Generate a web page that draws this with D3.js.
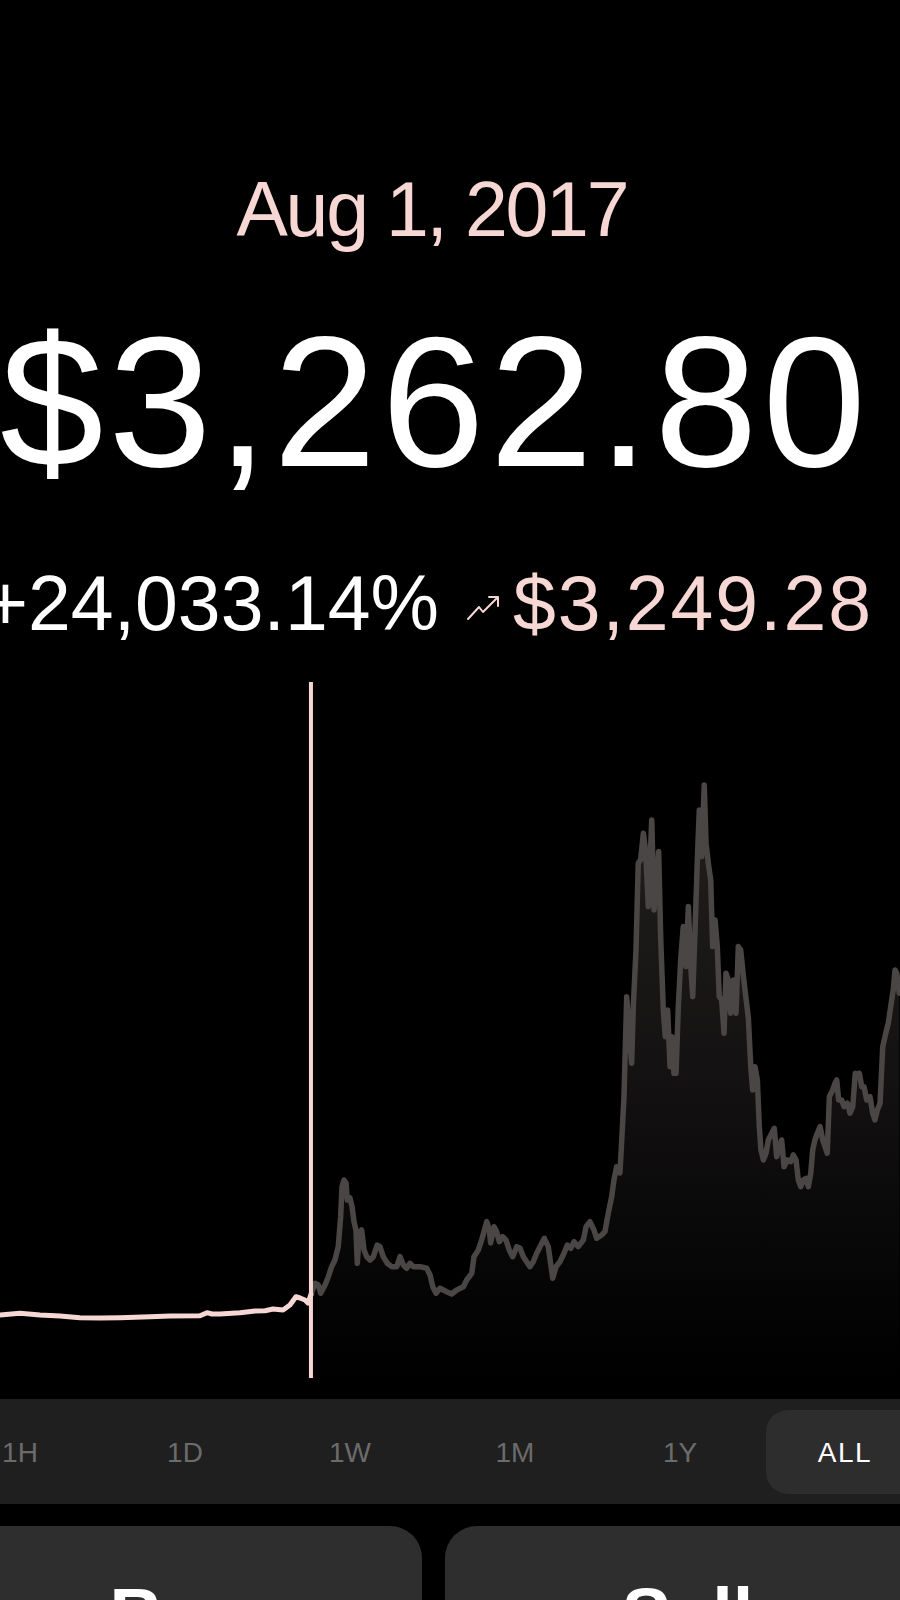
<!DOCTYPE html>
<html>
<head>
<meta charset="utf-8">
<script src="https://cdn.jsdelivr.net/npm/d3@7"></script>
<style>
  html, body { margin: 0; padding: 0; background: #000; }
  svg { display: block; }
  text { font-family: "Liberation Sans", Arial, Helvetica, sans-serif; }
</style>
</head>
<body>
<svg id="chart" width="900" height="1600"></svg>
<script>
// ---------- data ----------
const dateLabel = "Aug 1, 2017";
const priceLabel = "$3,262.80";
const changePctLabel = "+24,033.14%";
const changeAbsLabel = "$3,249.28";
const ranges = ["1H", "1D", "1W", "1M", "1Y", "ALL"];
const activeRange = "ALL";
const actions = ["Buy", "Sell"];

const cursorWeek = 207.3;
const cursorPrice = 3262.80;

const weeks = [
  0, 13.3, 26.7, 40, 53.3, 66.7, 80, 100, 113.3, 133.3, 138, 141.3, 146.7, 160, 170, 176.7, 182, 188.7, 193.3, 197.3, 200, 203.3, 205.3, 207.3,
  210, 212.2, 213.8, 216.7, 218.9, 221.1, 223.3, 225.5, 227.1, 228, 229.3, 230.7, 231.5, 233.3, 234.7, 236, 237.3, 238.2, 239.5, 241.1, 242.7, 244.5,
  246.7, 248.9, 251.5, 253.3, 255.5, 258.2, 261.1, 264.5, 266.7, 268.9, 271.1, 273.3, 275.5, 280, 284.5, 286.7, 288.5, 290.7, 293.3, 297.8, 301.1,
  304.5, 308.9, 311.1, 314.5, 316, 318.9, 321.1, 324.5, 326.2, 327.1, 329.3, 331.1, 332.9,
  335.1, 337.3, 339.5, 341.8, 344.5, 346.7, 348.9, 351.1, 353.3, 355.5, 357.8, 360, 362.9, 365.5, 367.1, 368.5, 370.7, 373.3, 376, 378.2, 380.5,
  382.7, 385.5, 388.9, 390.7, 393.3, 396, 397.8, 401.1, 403.3, 405.5, 407.8, 409.3, 411.1, 413.3, 414.5, 416, 417.8, 419.5, 421.1, 422.2, 424,
  425.5, 427.1, 428.9, 430.5, 432.2, 433.3, 434.5, 436, 437.8, 439.1, 440.5, 442.2, 443.5, 445.1, 446.7, 448, 449.3, 450.7, 452.2, 453.8, 455.5,
  457.3, 458.9, 460.5, 461.8, 463.3, 464.9, 466.2, 467.8, 469.5, 470.7, 472.2, 473.8, 475.1, 476.7, 478.2, 479.5, 481.1, 482.7, 484, 485.5, 487.1,
  488.9, 490.7, 492.2, 493.8, 495.5, 497.3, 498.9, 500.5, 501.8, 503.3, 504.9, 506.2, 507.3, 508.9, 510.7, 512.2, 514.5, 516.2, 517.8, 519.5,
  521.1, 522.7, 524.9, 527.1, 528.9, 530.7, 532.2, 533.8, 535.5, 537.3, 538.9, 540.5, 541.8, 543.3, 544.9, 546.7, 548.5, 550, 551.5, 552.9,
  555.1, 556.7, 557.8, 559.1, 561.1, 562.7, 564.9, 566.7, 568.5, 570.2, 571.5, 572.9, 574.5, 576, 577.8, 580, 581.8, 583.3, 584.9, 586.7,
  588.5, 590.5, 592.2, 593.8, 595.5, 596.7, 597.8, 599.5
];

const prices = [
  645, 864, 645, 516, 297, 258, 297, 426, 516, 555, 942, 774, 774, 942, 1161, 1200, 1419, 1290, 1935, 3006, 2838, 2580, 2193, 3262.8,
  4734, 4515, 3444, 4515, 5586, 6876, 7740, 9456, 13326, 17196, 18060, 17673, 15480, 15738, 14616, 12681, 11610, 7314, 11184, 11610, 9030, 8166,
  7740, 8166, 9675, 9456, 8166, 7314, 6876, 6876, 8166, 7095, 6669, 7314, 6876, 6876, 6669, 5805, 4296, 3444, 4089, 3651, 3354,
  3870, 4296, 5160, 6024, 8166, 9030, 10320, 12681, 11610, 9933, 12036, 11391, 10101,
  10746, 10320, 9030, 8166, 9456, 9249, 8166, 7521, 6876, 7521, 8604, 9456, 10539, 9456, 7314, 5379, 6876, 7521, 8604, 9675, 9249,
  10101, 9456, 10320, 12036, 12681, 11610, 10539, 10965, 11391, 13764, 15906, 18060, 19776, 18963, 23220, 28806, 41706, 36984, 33114, 40416, 47730,
  58914, 59340, 62784, 60204, 53316, 58914, 64500, 52890, 56760, 60411, 49020, 39990, 36546, 39990, 32676, 36546, 31824, 31824, 40416, 46440, 50736,
  45576, 53316, 45576, 41706, 49884, 59340, 65790, 59766, 69000, 61494, 58914, 56760, 48156, 51600, 48156, 41706, 41280, 36984, 44724, 43860, 39564,
  43860, 39564, 48156, 47730, 44505, 41538, 38958, 32676, 29670, 32676, 30960, 24936, 21930, 20640, 21504, 23220, 24084, 24729, 21066, 22356,
  23220, 19776, 20640, 20421, 21285, 20640, 18060, 17196, 18060, 18279, 17196, 18924, 21930, 23220, 24084, 24936, 23220, 22356, 21504, 28806,
  29670, 30534, 30960, 28380, 28380, 27516, 27954, 26664, 27516, 31824, 31386, 31824, 30096, 30096, 28380, 28806, 26664, 25800, 27090, 27954,
  35256, 36984, 38274, 40416, 42570, 45150, 44724, 42144
];

// ---------- layout ----------
const W = 900;
const pink = "#f6d7d4";
const greyLine = "#4b4646";
const svg = d3.select("#chart");

svg.append("rect").attr("width", W).attr("height", 1600).attr("fill", "#000");

const data = weeks.map((w, i) => ({ w, p: prices[i] }));

const x = d3.scaleLinear().domain([0, 600]).range([0, W]);
const y = d3.scaleLinear().domain([0, 69000]).range([1320, 785]);

const chartTop = 682, chartBottom = 1378;

const defs = svg.append("defs");
const grad = defs.append("linearGradient")
  .attr("id", "fillGrad").attr("gradientUnits", "userSpaceOnUse")
  .attr("x1", 0).attr("x2", 0).attr("y1", y(69000)).attr("y2", chartBottom);
grad.append("stop").attr("offset", 0).attr("stop-color", "#231f1f");
grad.append("stop").attr("offset", 0.5).attr("stop-color", "#131111");
grad.append("stop").attr("offset", 1).attr("stop-color", "#000");

const past = data.filter(d => d.w <= cursorWeek);
const future = data.filter(d => d.w >= cursorWeek);

const area = d3.area().x(d => x(d.w)).y0(chartBottom).y1(d => y(d.p));
const line = d3.line().x(d => x(d.w)).y(d => y(d.p));

svg.append("path").datum(future).attr("d", area).attr("fill", "url(#fillGrad)");

svg.append("path").datum(future).attr("d", line)
  .attr("fill", "none").attr("stroke", greyLine).attr("stroke-width", 5.5)
  .attr("stroke-linejoin", "round").attr("stroke-linecap", "round");

svg.append("path").datum(past).attr("d", line)
  .attr("fill", "none").attr("stroke", pink).attr("stroke-width", 5)
  .attr("stroke-linejoin", "round").attr("stroke-linecap", "round");

// cursor line
svg.append("line")
  .attr("x1", x(cursorWeek)).attr("x2", x(cursorWeek))
  .attr("y1", chartTop).attr("y2", chartBottom)
  .attr("stroke", pink).attr("stroke-width", 4);

// ---------- header texts ----------
svg.append("text").text(dateLabel)
  .attr("x", 433).attr("y", 236).attr("text-anchor", "middle")
  .attr("font-size", 77).attr("fill", pink)
  .attr("textLength", 393).attr("lengthAdjust", "spacing");

svg.append("text").text(priceLabel)
  .attr("x", 433).attr("y", 466).attr("text-anchor", "middle")
  .attr("font-size", 186).attr("fill", "#fff")
  .attr("textLength", 866).attr("lengthAdjust", "spacing");

svg.append("text").text(changePctLabel)
  .attr("x", 439).attr("y", 630).attr("text-anchor", "end")
  .attr("font-size", 77).attr("fill", "#fff");

// trend arrow icon
const ax = 468, ay = 619;
svg.append("path")
  .attr("d", `M${ax},${ay} L${ax + 11},${ay - 12} L${ax + 15},${ay - 7} L${ax + 29},${ay - 21}`)
  .attr("fill", "none").attr("stroke", pink).attr("stroke-width", 2)
  .attr("stroke-linejoin", "round").attr("stroke-linecap", "round");
svg.append("path")
  .attr("d", `M${ax + 21},${ay - 22} L${ax + 30},${ay - 22} L${ax + 30},${ay - 13}`)
  .attr("fill", "none").attr("stroke", pink).attr("stroke-width", 2)
  .attr("stroke-linejoin", "round").attr("stroke-linecap", "round");

svg.append("text").text(changeAbsLabel)
  .attr("x", 513).attr("y", 630).attr("text-anchor", "start")
  .attr("font-size", 77).attr("fill", pink)
  .attr("textLength", 358).attr("lengthAdjust", "spacing");

// ---------- range selector ----------
svg.append("rect").attr("x", 0).attr("y", 1399).attr("width", W).attr("height", 105).attr("fill", "#1f1f1f");

const tabX = d3.scalePoint().domain(ranges).range([20, 845]);
svg.append("rect")
  .attr("x", tabX(activeRange) - 79).attr("y", 1410)
  .attr("width", 200).attr("height", 84).attr("rx", 22)
  .attr("fill", "#2d2d2d");

svg.selectAll("text.tab").data(ranges).join("text")
  .attr("class", "tab")
  .attr("x", d => tabX(d)).attr("y", 1462)
  .attr("text-anchor", "middle").attr("font-size", 28)
  .attr("letter-spacing", d => d === activeRange ? 1.5 : 0)
  .attr("fill", d => d === activeRange ? "#ffffff" : "#6b6b6b")
  .text(d => d);

// ---------- action buttons ----------
const btnX = d3.scaleBand().domain(actions).range([-63, 930]).paddingInner(0.0453);
svg.selectAll("rect.btn").data(actions).join("rect")
  .attr("class", "btn")
  .attr("x", d => btnX(d)).attr("y", 1526)
  .attr("width", btnX.bandwidth()).attr("height", 140).attr("rx", 32)
  .attr("fill", "#2e2e2e");

svg.selectAll("text.btn").data(actions).join("text")
  .attr("class", "btn")
  .attr("x", d => btnX(d) + btnX.bandwidth() / 2).attr("y", 1640)
  .attr("text-anchor", "middle").attr("font-size", 74).attr("font-weight", "bold")
  .attr("fill", "#fff")
  .text(d => d);
</script>
</body>
</html>
